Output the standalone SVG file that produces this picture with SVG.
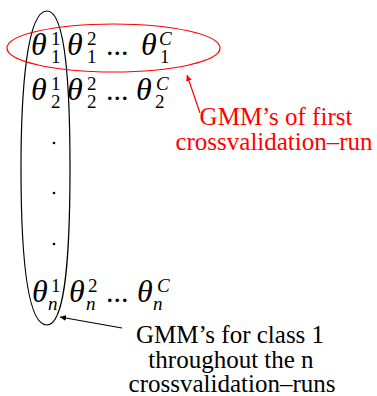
<svg xmlns="http://www.w3.org/2000/svg" width="377" height="396" viewBox="0 0 377 396">
<defs>
<marker id="ab" viewBox="0 0 10 10" refX="10" refY="5" markerWidth="6" markerHeight="6" markerUnits="userSpaceOnUse" orient="auto"><path d="M0,0 L10,5 L0,10 z" fill="#000"/></marker>
<marker id="ar" viewBox="0 0 10 10" refX="10" refY="5" markerWidth="6" markerHeight="6" markerUnits="userSpaceOnUse" orient="auto"><path d="M0,0 L10,5 L0,10 z" fill="#f00"/></marker>
</defs>
<g id="matrix" fill="#000">
<g id="row1">
<text style="font-family:'Liberation Serif',serif !important;font-style:italic;font-size:32px" x="31" y="55">θ</text><text style="font-family:'Liberation Serif',serif !important;font-size:19px" x="51" y="45">1</text><text style="font-family:'Liberation Serif',serif !important;font-size:19px" x="51" y="63">1</text>
<text style="font-family:'Liberation Serif',serif !important;font-style:italic;font-size:32px" x="67" y="55">θ</text><text style="font-family:'Liberation Serif',serif !important;font-size:19px" x="87" y="45">2</text><text style="font-family:'Liberation Serif',serif !important;font-size:19px" x="87" y="63">1</text>
<text style="font-family:'Liberation Serif',serif !important;font-size:30px" x="106" y="55">...</text>
<text style="font-family:'Liberation Serif',serif !important;font-style:italic;font-size:32px" x="141" y="55">θ</text><text style="font-family:'Liberation Serif',serif !important;font-style:italic;font-size:19px" x="159" y="45">C</text><text style="font-family:'Liberation Serif',serif !important;font-size:19px" x="160" y="63">1</text>
</g>
<g id="row2">
<text style="font-family:'Liberation Serif',serif !important;font-style:italic;font-size:32px" x="31" y="100">θ</text><text style="font-family:'Liberation Serif',serif !important;font-size:19px" x="51" y="90">1</text><text style="font-family:'Liberation Serif',serif !important;font-size:19px" x="51" y="108">2</text>
<text style="font-family:'Liberation Serif',serif !important;font-style:italic;font-size:32px" x="67" y="100">θ</text><text style="font-family:'Liberation Serif',serif !important;font-size:19px" x="87" y="90">2</text><text style="font-family:'Liberation Serif',serif !important;font-size:19px" x="87" y="108">2</text>
<text style="font-family:'Liberation Serif',serif !important;font-size:30px" x="106" y="100">...</text>
<text style="font-family:'Liberation Serif',serif !important;font-style:italic;font-size:32px" x="136" y="100">θ</text><text style="font-family:'Liberation Serif',serif !important;font-style:italic;font-size:19px" x="156" y="90">C</text><text style="font-family:'Liberation Serif',serif !important;font-size:19px" x="155" y="108">2</text>
</g>
<circle cx="54" cy="143" r="1.3"/>
<circle cx="54" cy="193" r="1.3"/>
<circle cx="54" cy="244" r="1.3"/>
<g id="rown">
<text style="font-family:'Liberation Serif',serif !important;font-style:italic;font-size:32px" x="32" y="302">θ</text><text style="font-family:'Liberation Serif',serif !important;font-size:19px" x="51" y="292">1</text><text style="font-family:'Liberation Serif',serif !important;font-style:italic;font-size:19px" x="48" y="310">n</text>
<text style="font-family:'Liberation Serif',serif !important;font-style:italic;font-size:32px" x="69" y="302">θ</text><text style="font-family:'Liberation Serif',serif !important;font-size:19px" x="88" y="292">2</text><text style="font-family:'Liberation Serif',serif !important;font-style:italic;font-size:19px" x="86" y="310">n</text>
<text style="font-family:'Liberation Serif',serif !important;font-size:30px" x="106" y="302">...</text>
<text style="font-family:'Liberation Serif',serif !important;font-style:italic;font-size:32px" x="137" y="302">θ</text><text style="font-family:'Liberation Serif',serif !important;font-style:italic;font-size:19px" x="157" y="292">C</text><text style="font-family:'Liberation Serif',serif !important;font-style:italic;font-size:19px" x="153" y="310">n</text>
</g>
</g>
<g id="class1-loop">
<path d="M47,11 C27,11 21,90 21,168 C21,250 26,325 47,325 C66,325 70,250 70,168 C70,90 66,11 47,11 Z" fill="none" stroke="#000" stroke-width="1.2"/>
</g>
<g id="run1-ellipse">
<ellipse cx="113.5" cy="48" rx="106.5" ry="24" fill="none" stroke="#f00" stroke-width="1.2"/>
</g>
<g id="connectors">
<line x1="200" y1="113" x2="187" y2="75" stroke="#f00" stroke-width="1.2" marker-end="url(#ar)"/>
<line x1="122" y1="328" x2="60" y2="317" stroke="#000" stroke-width="1.2" marker-end="url(#ab)"/>
</g>
<g id="label-run" text-anchor="middle" fill="#f00">
<text style="font-family:'Liberation Serif',serif !important;font-size:25px" x="276" y="125">GMM’s of first</text>
<text style="font-family:'Liberation Serif',serif !important;font-size:25px" x="274" y="150">crossvalidation–run</text>
</g>
<g id="label-class" text-anchor="middle" fill="#000">
<text style="font-family:'Liberation Serif',serif !important;font-size:25px" x="230" y="343">GMM’s for class 1</text>
<text style="font-family:'Liberation Serif',serif !important;font-size:25px" x="231" y="368">throughout the n</text>
<text style="font-family:'Liberation Serif',serif !important;font-size:25px" x="232" y="392">crossvalidation–runs</text>
</g>
</svg>
